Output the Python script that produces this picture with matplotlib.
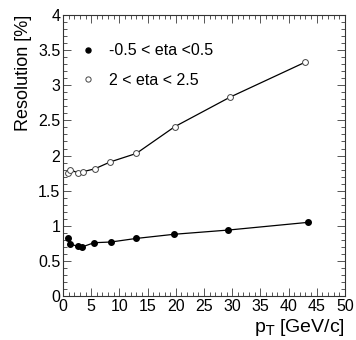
import matplotlib
matplotlib.use('Agg')
import matplotlib.pyplot as plt
from matplotlib.ticker import MultipleLocator

plt.rcParams['font.family'] = ['Liberation Sans', 'DejaVu Sans']

# p_T values [GeV/c]
pt_central = [0.8, 1.3, 2.6, 3.4, 5.5, 8.5, 12.9, 19.7, 29.3, 43.5]
res_central = [0.82, 0.74, 0.71, 0.70, 0.76, 0.77, 0.82, 0.88, 0.94, 1.05]

pt_forward = [0.8, 1.3, 2.7, 3.5, 5.6, 8.4, 13.0, 19.8, 29.6, 43.0]
res_forward = [1.75, 1.80, 1.75, 1.77, 1.81, 1.91, 2.03, 2.41, 2.83, 3.33]

fig = plt.figure(figsize=(3.56, 3.40), dpi=100)
ax = fig.add_axes([0.177, 0.129, 0.792, 0.827])

ax.plot(pt_central, res_central, '-', color='black', lw=0.9,
        marker='o', ms=4, mfc='black', mec='black',
        label='-0.5 < eta <0.5')
ax.plot(pt_forward, res_forward, '-', color='black', lw=0.9,
        marker='o', ms=4.2, mfc='white', mec='#444444', mew=0.7,
        label='2 < eta < 2.5')

ax.set_xlim(0, 50)
ax.set_ylim(0, 4)
ax.xaxis.set_major_locator(MultipleLocator(5))
ax.xaxis.set_minor_locator(MultipleLocator(1))
ax.yaxis.set_major_locator(MultipleLocator(0.5))
ax.yaxis.set_minor_locator(MultipleLocator(0.1))
ax.set_yticks([0, 0.5, 1, 1.5, 2, 2.5, 3, 3.5, 4])
ax.set_yticklabels(['0', '0.5', '1', '1.5', '2', '2.5', '3', '3.5', '4'])

ax.tick_params(which='both', direction='in', top=True, right=True,
               labelsize=11.5, width=0.7, color='#555555')
ax.tick_params(which='major', length=6, pad=2)
ax.tick_params(which='minor', length=3)
for s in ax.spines.values():
    s.set_linewidth(0.8)
    s.set_color('#333333')

ax.set_ylabel('Resolution [%]', fontsize=13, loc='top', labelpad=4)
ax.set_xlabel(r'p$_{\mathrm{T}}$ [GeV/c]', fontsize=14, loc='right', labelpad=2)

ax.legend(loc='upper left', bbox_to_anchor=(0.02, 0.95), frameon=False,
          fontsize=11.5, handlelength=0.6, handletextpad=1.0,
          labelspacing=0.9, numpoints=1, markerscale=0.9)
leg = ax.get_legend()
for h in leg.legend_handles:
    h.set_linestyle('None')

fig.savefig('out.png', dpi=100)
